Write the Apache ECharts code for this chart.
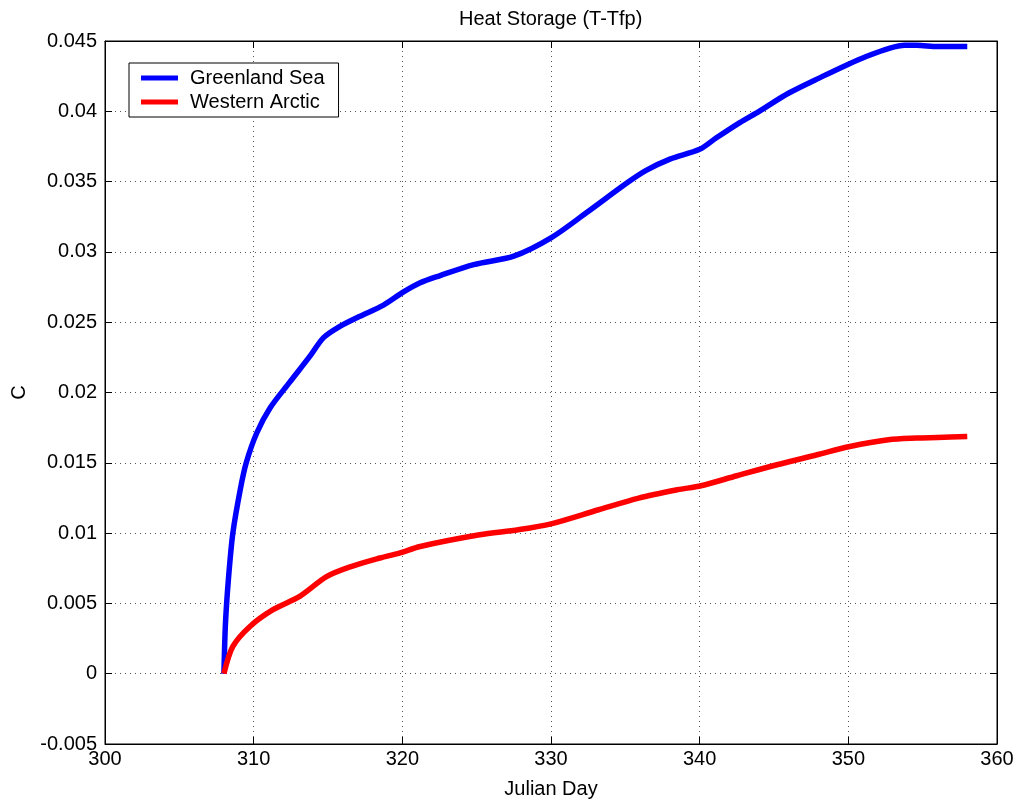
<!DOCTYPE html>
<html>
<head>
<meta charset="utf-8">
<script src="https://cdn.jsdelivr.net/npm/echarts@6/dist/echarts.min.js"></script>
<style>
html,body{margin:0;padding:0;background:#fff;}
#chart{width:1020px;height:805px;}
</style>
</head>
<body>
<div id="chart"></div>
<script>
const titleText = 'Heat Storage (T-Tfp)';
const xName = 'Julian Day';
const yName = 'C';
const seriesNames = ['Greenland Sea', 'Western Arctic'];

const greenlandDays = [308, 308.1, 308.3, 308.6, 309.1, 309.5, 310.2, 311.1, 312.4, 313.8, 314.7, 315.8, 317.1, 318.7, 320, 321.2, 322.5, 324.8, 327.5, 330, 332.4, 335.1, 336.4, 338, 340, 341.1, 342.7, 344, 346, 348.3, 349.9, 351.2, 352.8, 353.8, 354.6, 356, 357, 358];
const greenlandVals = [0, 0.0035, 0.0067, 0.0100, 0.0131, 0.0150, 0.0171, 0.0189, 0.0207, 0.0226, 0.0239, 0.0247, 0.0254, 0.0262, 0.0271, 0.0278, 0.0283, 0.0291, 0.0297, 0.0310, 0.0328, 0.0349, 0.0358, 0.0366, 0.0373, 0.0381, 0.0392, 0.0400, 0.0413, 0.0425, 0.0433, 0.0439, 0.0445, 0.0447, 0.0447, 0.0446, 0.0446, 0.0446];

const arcticDays = [308, 308.6, 309.75, 311.3, 313.1, 314.9, 316.5, 318.5, 319.8, 321.2, 325.2, 327.8, 330, 333.2, 335.9, 338.5, 340.1, 342.5, 345.2, 347.9, 350.1, 352.7, 354.6, 356, 358];
const arcticVals = [0, 0.00194, 0.00336, 0.00455, 0.0055, 0.0069, 0.0076, 0.00823, 0.00858, 0.00905, 0.00988, 0.01024, 0.01066, 0.01166, 0.01249, 0.01308, 0.01337, 0.01408, 0.01486, 0.01557, 0.01616, 0.01664, 0.01676, 0.01680, 0.01687];

const xTicks = [300, 310, 320, 330, 340, 350, 360];
const yTicks = [-0.005, 0, 0.005, 0.01, 0.015, 0.02, 0.025, 0.03, 0.035, 0.04, 0.045];

function pairs(xs, ys) { return xs.map((x, i) => [x, ys[i]]); }

const chart = echarts.init(document.getElementById('chart'), null, {renderer: 'canvas'});
const font = 'Liberation Sans, Arial, sans-serif';
const yFmt = v => {
  const r = Math.round(v * 1000) / 1000;
  if (r === 0) return '0';
  return String(r);
};
const tickStyle = {show: true, inside: true, length: 7, lineStyle: {color: '#000'}};
const gridLine = {show: true, lineStyle: {type: [1, 4], color: '#555'}};
chart.setOption({
  backgroundColor: '#fff',
  animation: false,
  title: {
    text: titleText, left: 454, top: 4,
    textStyle: {fontFamily: font, fontSize: 20, fontWeight: 'normal', color: '#000'}
  },
  legend: {
    left: 129, top: 63, orient: 'vertical',
    backgroundColor: '#fff', borderColor: '#000', borderWidth: 1,
    padding: [5, 14, 5, 12], itemGap: 4,
    itemWidth: 37, itemHeight: 5, icon: 'rect',
    textStyle: {fontFamily: font, fontSize: 20, color: '#000', padding: [0, 0, 0, 7], lineHeight: 20},
    data: seriesNames
  },
  grid: {left: 105, right: 23, top: 41, bottom: 61, show: true, borderColor: '#000', borderWidth: 1},
  xAxis: [{
    type: 'value', min: xTicks[0], max: xTicks[xTicks.length - 1], interval: 10,
    name: xName, nameLocation: 'middle', nameGap: 35,
    nameTextStyle: {fontFamily: font, fontSize: 20, color: '#000'},
    axisLine: {show: true, onZero: false, lineStyle: {color: '#000'}},
    axisTick: tickStyle,
    axisLabel: {fontFamily: font, fontSize: 20, color: '#000', margin: 5},
    splitLine: gridLine
  }, {
    type: 'value', min: xTicks[0], max: xTicks[xTicks.length - 1], interval: 10, position: 'top',
    axisLine: {show: true, onZero: false, lineStyle: {color: '#000'}},
    axisTick: tickStyle,
    axisLabel: {show: false}, splitLine: {show: false}
  }],
  yAxis: [{
    type: 'value', min: yTicks[0], max: yTicks[yTicks.length - 1], interval: 0.005,
    name: yName, nameLocation: 'middle', nameGap: 73, nameRotate: 90,
    nameTextStyle: {fontFamily: font, fontSize: 20, color: '#000'},
    axisLine: {show: true, onZero: false, lineStyle: {color: '#000'}},
    axisTick: tickStyle,
    axisLabel: {fontFamily: font, fontSize: 20, color: '#000', margin: 8, formatter: yFmt},
    splitLine: gridLine
  }, {
    type: 'value', min: yTicks[0], max: yTicks[yTicks.length - 1], interval: 0.005, position: 'right',
    axisLine: {show: true, onZero: false, lineStyle: {color: '#000'}},
    axisTick: tickStyle,
    axisLabel: {show: false}, splitLine: {show: false}
  }],
  series: [{
    name: seriesNames[0], type: 'line', data: pairs(greenlandDays, greenlandVals),
    showSymbol: false, smooth: 0.3, color: '#0000ff',
    lineStyle: {width: 5.5, color: '#0000ff', join: 'round', cap: 'butt'}
  }, {
    name: seriesNames[1], type: 'line', data: pairs(arcticDays, arcticVals),
    showSymbol: false, smooth: 0.3, color: '#ff0000',
    lineStyle: {width: 5.5, color: '#ff0000', join: 'round', cap: 'butt'}
  }]
});
</script>
</body>
</html>
